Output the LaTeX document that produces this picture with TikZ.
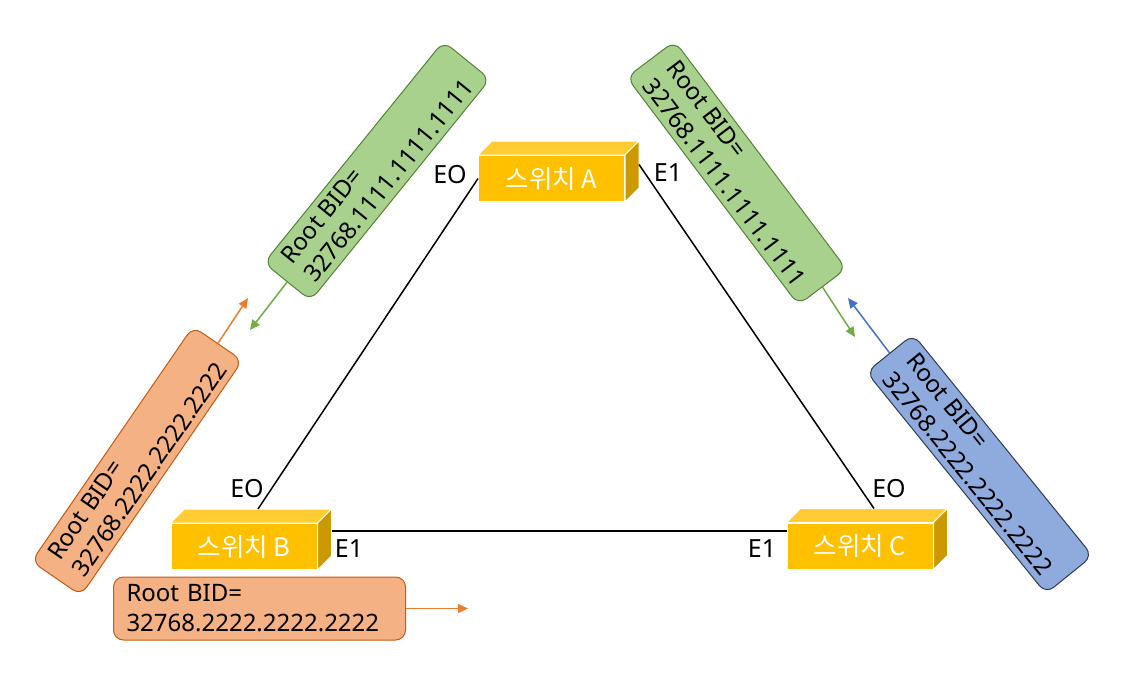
\documentclass[tikz,border=0pt]{standalone}
\usepackage{fontspec}
\setmainfont{Noto Sans}
\newfontfamily\kr{Noto Sans CJK KR}
\usetikzlibrary{arrows.meta,calc}
\definecolor{gfill}{HTML}{A9D18E}
\definecolor{gdraw}{HTML}{548235}
\definecolor{ofill}{HTML}{F4B183}
\definecolor{odraw}{HTML}{C55A11}
\definecolor{bfill}{HTML}{8FAADC}
\definecolor{bdraw}{HTML}{2F3B52}
\definecolor{garrow}{HTML}{70AD47}
\definecolor{oarrow}{HTML}{ED7D31}
\definecolor{barrow}{HTML}{4472C4}
\definecolor{swfront}{HTML}{FFC000}
\definecolor{swtop}{HTML}{FFCD33}
\definecolor{swside}{HTML}{CC9A00}
\begin{document}
\begin{tikzpicture}[x=1pt,y=-1pt,
  txt/.style={font=\fontsize{24}{30}\selectfont},
  bidbox/.style={txt, rounded corners=10pt, line width=1pt, align=left,
    inner xsep=13pt, inner ysep=0pt, minimum width=285pt, minimum height=60pt},
  greenbox/.style={bidbox, fill=gfill, draw=gdraw},
  orangebox/.style={bidbox, fill=ofill, draw=odraw},
  bluebox/.style={bidbox, fill=bfill, draw=bdraw},
  switchbox/.style={fill=swfront, draw=white, line width=1pt,
    minimum width=146pt, minimum height=46pt, inner sep=0pt, text=white,
    font=\fontsize{25.5}{30}\kr},
  topface/.style={fill=swtop, draw=white, line width=1pt, line join=round},
  sideface/.style={fill=swside, draw=white, line width=1pt, line join=round},
  link/.style={draw=black, line width=1.5pt},
  arr/.style={line width=1.5pt, -{Triangle[length=10pt,width=9pt]}},
  port/.style={font=\fontsize{25}{30}\selectfont, inner sep=0pt}
]
\useasboundingbox (0,0) rectangle (1147,691);

% switches (front faces)
\node[switchbox] (A) at (551.5,178.5) {스위치 A};
\node[switchbox] (B) at (244,546.5) {스위치 B};
\node[switchbox] (C) at (860,546) {스위치 C};

% 3D faces
\foreach \s in {A,B,C}{
  \draw[topface] (\s.north west) -- (\s.north east) -- ++(14,-14)
     -- ($(\s.north west)+(14,-14)$) -- cycle;
  \draw[sideface] (\s.north east) -- ++(14,-14)
     -- ($(\s.south east)+(14,-14)$) -- (\s.south east) -- cycle;
}

% connection points
\coordinate (Bt) at ($(B.north)+(14,-14)$);
\coordinate (Ct) at ($(C.north)+(14,-14)$);
\coordinate (Ae) at ($(A.east)+(14,-14)$);
\coordinate (Be) at ($(B.east)+(14,-15.5)$);

% links
\draw[link] (A.west) -- (Bt);
\draw[link] (Ae) -- (Ct);
\draw[link] (Be) -- (Be -| C.west);

% port labels
\node[port] (pAl) at (450,175) {EO};
\node[port] (pAr) at (668,173) {E1};
\node[port] (pBt) at (247,489) {EO};
\node[port] (pBr) at (349,549) {E1};
\node[port] (pCl) at (762,549) {E1};
\node[port] (pCt) at (889,489) {EO};

% arrow end points
\coordinate (g1e) at (250,330);
\coordinate (o1e) at (248,298);
\coordinate (g2e) at (855,337);
\coordinate (b2e) at (848,298);
\coordinate (o2e) at (468,608.5);

% BID boxes
\node[greenbox, rotate=51] (G1) at (377,171) {Root BID=\\32768.1111.1111.1111};
\node[greenbox, rotate=-53] (G2) at (736.5,173) {Root BID=\\32768.1111.1111.1111};
\node[orangebox, rotate=55.5] (O1) at (137,461) {Root BID=\\32768.2222.2222.2222};
\node[bluebox, rotate=-51] (B2) at (979.5,464) {Root BID=\\32768.2222.2222.2222};
\node[orangebox, text width=266pt, minimum height=63pt] (O2) at (259.5,608.5)
   {Root BID=\\32768.2222.2222.2222};

% arrows
\draw[arr, draw=garrow, fill=garrow] (G1.west) -- (g1e);
\draw[arr, draw=oarrow, fill=oarrow] (O1.east) -- (o1e);
\draw[arr, draw=garrow, fill=garrow] (G2.east) -- (g2e);
\draw[arr, draw=barrow, fill=barrow] (B2.west) -- (b2e);
\draw[arr, draw=oarrow, fill=oarrow] (O2.east) -- (o2e);
\end{tikzpicture}
\end{document}
